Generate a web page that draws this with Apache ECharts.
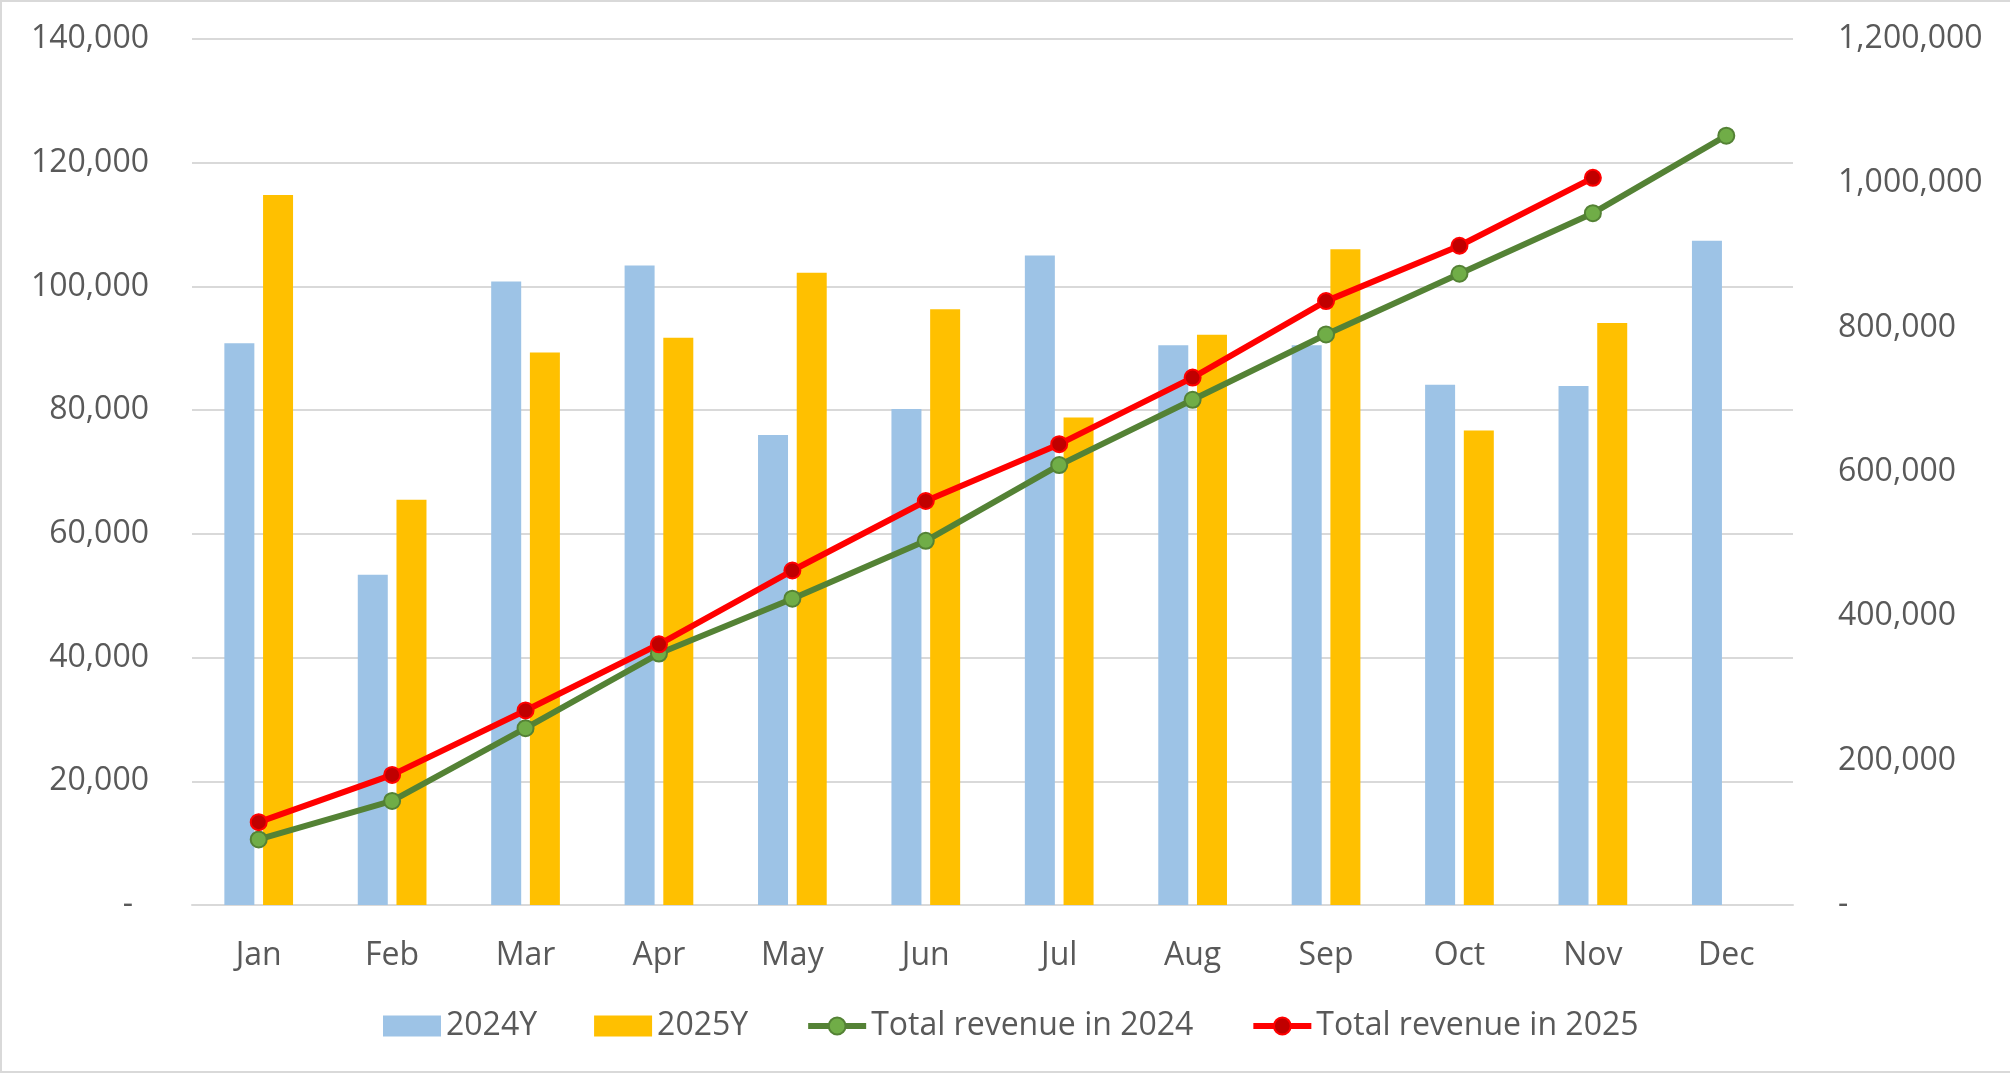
<!DOCTYPE html>
<html>
<head>
<meta charset="utf-8">
<script src="https://cdn.jsdelivr.net/npm/echarts@6/dist/echarts.min.js"></script>
<style>
  html, body { margin: 0; padding: 0; background: #fff; }
  #chart { width: 2010px; height: 1074px; }
</style>
</head>
<body>
<div id="chart"></div>
<script>
const months = ['Jan', 'Feb', 'Mar', 'Apr', 'May', 'Jun', 'Jul', 'Aug', 'Sep', 'Oct', 'Nov', 'Dec'];
const revenue2024 = [90800, 53400, 100800, 103400, 76000, 80200, 105000, 90500, 90500, 84100, 83900, 107400];
const revenue2025 = [114800, 65500, 89300, 91700, 102200, 96300, 78800, 92200, 106000, 76700, 94100, null];
const total2024 = [90800, 144200, 245000, 348400, 424400, 504600, 609600, 700100, 790600, 874700, 958600, 1066000];
const total2025 = [114800, 180300, 269600, 361300, 463500, 559800, 638600, 730800, 836800, 913500, 1007600, null];

const FONT = 'Open Sans';
const TEXT = '#595959';
const GRID = '#D9D9D9';

function fmt(v) {
  if (v === 0) return null;
  return v.toLocaleString('en-US');
}

const chart = echarts.init(document.getElementById('chart'));

chart.setOption({
  animation: false,
  backgroundColor: '#fff',
  textStyle: { fontFamily: FONT },
  graphic: [{
    type: 'rect',
    shape: { x: 1, y: 1, width: 2020, height: 1071 },
    style: { fill: 'none', stroke: GRID, lineWidth: 2 },
    silent: true
  }],
  grid: { left: 192, right: 217, top: 39, bottom: 169 },
  legend: {
    left: 383,
    top: 1010,
    padding: 0,
    itemWidth: 58,
    itemHeight: 21,
    itemGap: 57,
    lineStyle: { width: 6 },
    textStyle: { fontFamily: FONT, fontSize: 32, color: TEXT },
    data: [
      { name: '2024Y', icon: 'rect' },
      { name: '2025Y', icon: 'rect' },
      { name: 'Total revenue in 2024' },
      { name: 'Total revenue in 2025' }
    ]
  },
  xAxis: {
    type: 'category',
    data: months,
    axisLine: { lineStyle: { color: GRID, width: 2 } },
    axisTick: { show: false },
    axisLabel: { fontFamily: FONT, fontSize: 32, color: TEXT, margin: 35 }
  },
  yAxis: [
    {
      type: 'value',
      min: 0,
      max: 140000,
      interval: 20000,
      axisLine: { show: false },
      axisTick: { show: false },
      splitLine: { lineStyle: { color: GRID, width: 2 } },
      axisLabel: {
        fontFamily: FONT, fontSize: 32, color: TEXT, margin: 43,
        formatter: v => v === 0 ? '{d|-}' : fmt(v),
        rich: { d: { fontFamily: FONT, fontSize: 32, color: TEXT, padding: [0, 16, 0, 0] } }
      }
    },
    {
      type: 'value',
      min: 0,
      max: 1200000,
      interval: 200000,
      axisLine: { show: false },
      axisTick: { show: false },
      splitLine: { show: false },
      axisLabel: {
        fontFamily: FONT, fontSize: 32, color: TEXT, margin: 45,
        formatter: v => v === 0 ? '-' : fmt(v)
      }
    }
  ],
  series: [
    {
      name: '2024Y',
      type: 'bar',
      data: revenue2024,
      barWidth: 30,
      barGap: '29%',
      itemStyle: { color: '#9DC3E6' }
    },
    {
      name: '2025Y',
      type: 'bar',
      data: revenue2025,
      barWidth: 30,
      itemStyle: { color: '#FFC000' }
    },
    {
      name: 'Total revenue in 2024',
      type: 'line',
      yAxisIndex: 1,
      data: total2024,
      symbol: 'circle',
      symbolSize: 16,
      lineStyle: { color: '#548235', width: 6 },
      itemStyle: { color: '#70AD47', borderColor: '#548235', borderWidth: 2 }
    },
    {
      name: 'Total revenue in 2025',
      type: 'line',
      yAxisIndex: 1,
      data: total2025,
      symbol: 'circle',
      symbolSize: 16,
      lineStyle: { color: '#FF0000', width: 6 },
      itemStyle: { color: '#C00000', borderColor: '#FF0000', borderWidth: 2 }
    }
  ]
});
</script>
</body>
</html>
